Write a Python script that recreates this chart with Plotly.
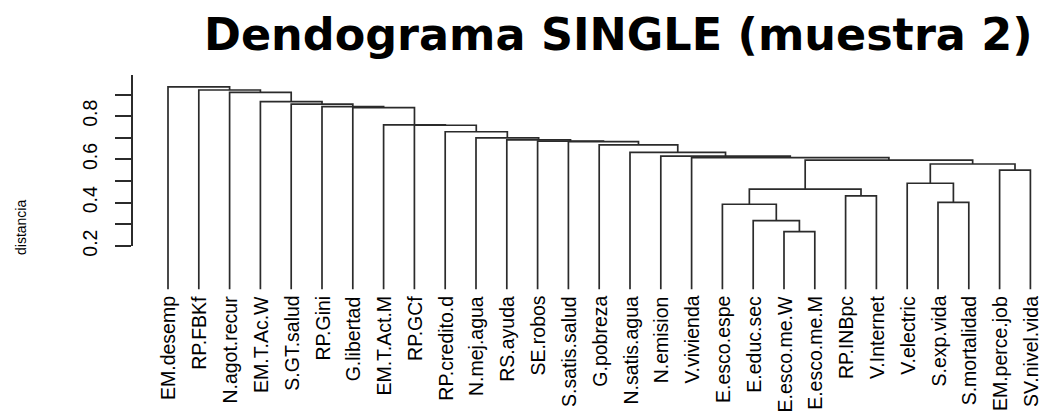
import plotly.graph_objects as go

# Leaf order along the x axis (left to right)
leaf_labels = [
    "EM.desemp", "RP.FBKf", "N.agot.recur", "EM.T.Ac.W", "S.GT.salud", "RP.Gini",
    "G.libertad", "EM.T.Act.M", "RP.GCf", "RP.credito.d", "N.mej.agua", "RS.ayuda",
    "SE.robos", "S.satis.salud", "G.pobreza", "N.satis.agua", "N.emision", "V.vivienda",
    "E.esco.espe", "E.educ.sec", "E.esco.me.W", "E.esco.me.M", "RP.INBpc", "V.Internet",
    "V.electric", "S.exp.vida", "S.mortalidad", "EM.perce.job", "SV.nivel.vida",
]

# hclust-style merge table: negative = leaf (1-based position), positive = earlier merge step
merge_left = [-21, -20, -19, -26, -23, 3, -25, -28, 7, 6, -18, -17, -16, -15,
              -14, -13, -12, -11, -10, -9, -8, -7, -6, -5, -4, -3, -2, -1]
merge_right = [-22, 1, 2, -27, -24, 5, 4, -29, 8, 9, 10, 11, 12, 13,
               14, 15, 16, 17, 18, 19, 20, 21, 22, 23, 24, 25, 26, 27]
merge_height = [0.266, 0.317, 0.393, 0.402, 0.432, 0.463, 0.490, 0.551, 0.579, 0.597,
                0.608, 0.615, 0.633, 0.667, 0.682, 0.685, 0.690, 0.700, 0.728, 0.758,
                0.760, 0.839, 0.844, 0.856, 0.867, 0.910, 0.921, 0.935]

y_ticks = [0.2, 0.3, 0.4, 0.5, 0.6, 0.7, 0.8, 0.9]
y_tick_text = ["0.2", "", "0.4", "", "0.6", "", "0.8", ""]

W, H = 1043, 412
LEAF_BASE = 0.0

# positions of every node in the tree
node_x, node_y = {}, {}


def pos(ref):
    if ref < 0:
        return float(-ref), LEAF_BASE
    return node_x[ref], node_y[ref]


seg_x, seg_y = [], []
for i, (a, b, h) in enumerate(zip(merge_left, merge_right, merge_height), start=1):
    xa, ya = pos(a)
    xb, yb = pos(b)
    node_x[i] = (xa + xb) / 2
    node_y[i] = h
    seg_x += [xa, xa, xb, xb, None]
    seg_y += [ya, h, h, yb, None]

line_col = "#2b2b2b"
sans = "Liberation Sans, Arial, sans-serif"
label_font = dict(family=sans, size=19.5, color="#000")

fig = go.Figure()
fig.add_trace(go.Scatter(
    x=seg_x, y=seg_y, mode="lines", xaxis="x", yaxis="y2",
    line=dict(color=line_col, width=1.7), hoverinfo="skip", showlegend=False,
))
# empty trace so the distance axis is drawn
fig.add_trace(go.Scatter(x=[None], y=[None], xaxis="x", yaxis="y",
                         showlegend=False, hoverinfo="skip"))

# pixel geometry
axis_px = 133          # x of the distance axis
leaf1_px, step_px = 168, 30.8
px_per_unit = 216.4
y02_px = 246           # pixel row of 0.2
axis_top_val = 0.9925


def yfrac(px):
    return 1 - px / H


x_lo = 1 - (leaf1_px - axis_px) / step_px
x_hi = 1 + (W - leaf1_px) / step_px
y_top_val = 0.2 + y02_px / px_per_unit
y_bot_val = 0.2 - (H - y02_px) / px_per_unit

annotations = [
    dict(text="<b>Dendograma SINGLE (muestra 2)</b>", xref="paper", yref="paper",
         x=618 / W, y=yfrac(35), xanchor="center", yanchor="middle", showarrow=False,
         font=dict(family="DejaVu Sans", size=44.5, color="#000")),
    dict(text="distancia", xref="paper", yref="paper",
         x=21 / W, y=yfrac(228), xanchor="center", yanchor="middle", showarrow=False,
         textangle=-90, font=dict(family=sans, size=14, color="#000")),
]
for i, name in enumerate(leaf_labels, start=1):
    annotations.append(dict(
        text=name, xref="x", yref="paper", x=i, y=yfrac(294),
        xanchor="center", yanchor="top", showarrow=False, textangle=-90,
        font=label_font,
    ))

fig.update_layout(
    width=W, height=H,
    margin=dict(l=0, r=0, t=0, b=0, autoexpand=False),
    paper_bgcolor="white", plot_bgcolor="white",
    xaxis=dict(
        domain=[axis_px / W, 1], range=[x_lo, x_hi], visible=False,
        showgrid=False, zeroline=False, automargin=False,
    ),
    yaxis=dict(
        domain=[yfrac(y02_px), yfrac(y02_px - (axis_top_val - 0.2) * px_per_unit)],
        range=[0.2, axis_top_val], anchor="x", automargin=False,
        showgrid=False, zeroline=False, showline=True, linecolor=line_col, linewidth=1.7,
        ticks="outside", ticklen=16, tickwidth=1.7, tickcolor=line_col,
        tickmode="array", tickvals=y_ticks, ticktext=y_tick_text, tickangle=-90,
        ticklabelstandoff=10,
        tickfont=dict(family=sans, size=19.5, color="#000"),
    ),
    yaxis2=dict(
        domain=[0, 1], range=[y_bot_val, y_top_val], anchor="x",
        visible=False, showgrid=False, zeroline=False, automargin=False,
    ),
    annotations=annotations,
)

fig.write_html("out.html")
